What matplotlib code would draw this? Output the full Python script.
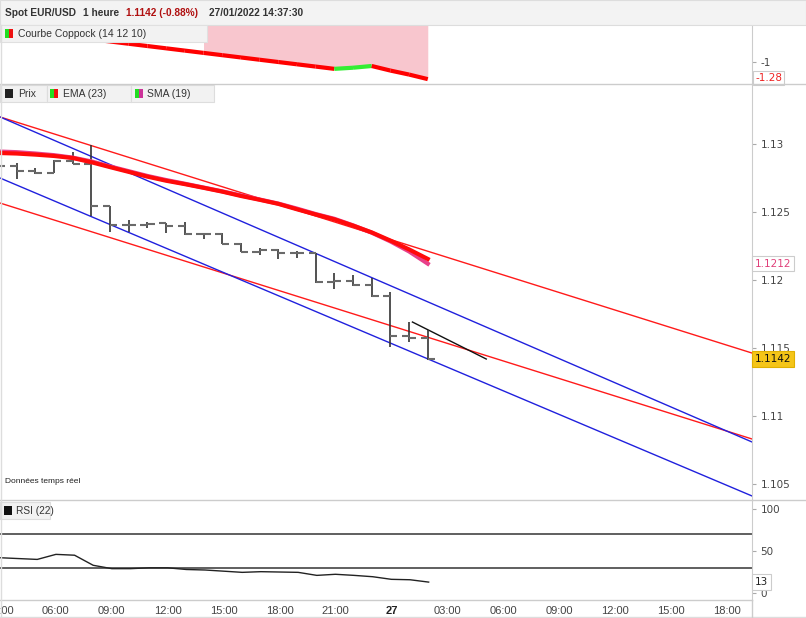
import matplotlib
matplotlib.use("Agg")
import matplotlib.pyplot as plt
from matplotlib.patches import Rectangle
import numpy as np

W, H = 806, 618

# hours counted from 26/01/2022 00:00
candle_hours = list(range(3, 27))
opens = [1.12850, 1.12838, 1.12801, 1.12787, 1.12875, 1.12853, 1.12544, 1.12404, 1.12404, 1.12419,
         1.12397, 1.12338, 1.12338, 1.12265, 1.12206, 1.12221, 1.12199, 1.12199, 1.11985, 1.11993,
         1.11963, 1.11882, 1.11588, 1.11574]
highs = [1.12870, 1.12860, 1.12824, 1.12882, 1.12941, 1.12993, 1.12544, 1.12441, 1.12426, 1.12419,
         1.12426, 1.12346, 1.12346, 1.12272, 1.12235, 1.12228, 1.12213, 1.12199, 1.12051, 1.12037,
         1.12015, 1.11912, 1.11691, 1.11632]
lows = [1.12810, 1.12743, 1.12779, 1.12787, 1.12853, 1.12471, 1.12353, 1.12353, 1.12382, 1.12346,
        1.12331, 1.12301, 1.12265, 1.12206, 1.12184, 1.12154, 1.12162, 1.11978, 1.11934, 1.11956,
        1.11875, 1.11507, 1.11544, 1.11412]
closes = [1.12838, 1.12801, 1.12787, 1.12875, 1.12853, 1.12544, 1.12404, 1.12404, 1.12412, 1.12397,
          1.12338, 1.12338, 1.12265, 1.12206, 1.12221, 1.12199, 1.12199, 1.11985, 1.11993, 1.11963,
          1.11882, 1.11588, 1.11574, 1.11419]

ma_hours = list(range(3, 27))
ema23 = [1.12934, 1.12930, 1.12922, 1.12912, 1.12897, 1.12866, 1.12830, 1.12795, 1.12760, 1.12730,
         1.12705, 1.12678, 1.12650, 1.12618, 1.12590, 1.12560, 1.12520, 1.12482, 1.12446, 1.12400,
         1.12350, 1.12290, 1.12225, 1.12155]
sma19 = [1.12945, 1.12940, 1.12930, 1.12918, 1.12900, 1.12872, 1.12835, 1.12800, 1.12765, 1.12735,
         1.12708, 1.12680, 1.12652, 1.12622, 1.12592, 1.12562, 1.12525, 1.12485, 1.12450, 1.12402,
         1.12348, 1.12284, 1.12210, 1.12120]

# trendlines (start hour, start price, end hour, end price)
red_channel = [(3.11, 1.13199, 43.35, 1.11463), (3.11, 1.12566, 43.35, 1.10831)]
blue_channel = [(3.11, 1.13199, 43.35, 1.10809), (3.11, 1.12750, 43.35, 1.10412)]
black_line = (25.18, 1.11691, 29.13, 1.11419)

coppock_hours = list(range(4, 27))
coppock = [-0.40, -0.45, -0.50, -0.55, -0.60, -0.64, -0.68, -0.72, -0.76, -0.80, -0.84, -0.88,
           -0.92, -0.96, -1.00, -1.04, -1.08, -1.12, -1.10, -1.07, -1.15, -1.22, -1.30]
coppock_shade_from = 14

rsi_hours = list(range(3, 27))
rsi = [42, 41, 40, 46, 45, 33, 29, 29, 30, 30, 28, 27.4, 26, 24.6, 25.4, 25, 24.6, 21, 22.3, 21,
       19.4, 16.3, 15.8, 13]

xticks = list(range(3, 43, 3))
xticklabels = ["27" if h == 24 else "%02d:00" % (h % 24) for h in xticks]

XMIN, XMAX = 3.11, 43.35
PLOT_R = 752


def fx(x):
    return x / W


def fy(y):
    return 1 - y / H


def axes_px(x0, y0, x1, y1):
    return [fx(x0), fy(y1), fx(x1) - fx(x0), fy(y0) - fy(y1)]


def box(x0, y0, x1, y1, fc, ec="none", lw=0.8):
    fig.add_artist(Rectangle((fx(x0), fy(y1)), fx(x1) - fx(x0), fy(y0) - fy(y1),
                             transform=fig.transFigure, facecolor=fc, edgecolor=ec, lw=lw))


def icon(x, y, colors):
    n = len(colors)
    for i, c in enumerate(colors):
        box(x + i * 8 / n, y, x + (i + 1) * 8 / n, y + 9, c)


fig = plt.figure(figsize=(W / 100, H / 100), dpi=100)
fig.patch.set_facecolor("white")
plt.rcParams["font.family"] = ["Liberation Sans", "DejaVu Sans"]

ax_c = fig.add_axes(axes_px(0, 25, PLOT_R, 83))
ax_p = fig.add_axes(axes_px(0, 84, PLOT_R, 500))
ax_r = fig.add_axes(axes_px(0, 500, PLOT_R, 600))

for a in (ax_c, ax_p, ax_r):
    a.set_xlim(XMIN, XMAX)
    for s in a.spines.values():
        s.set_visible(False)
    a.spines["right"].set_visible(True)
    a.spines["right"].set_color("#cccccc")
    a.yaxis.tick_right()
    a.tick_params(axis="y", length=3, color="#aaaaaa", labelsize=7.5, labelcolor="#444444", pad=3,
                  labelfontfamily="DejaVu Sans")
    a.tick_params(axis="x", length=0)
    a.set_xticks([])

# ---- Coppock panel
ax_c.set_ylim(-1.368, -0.351)
ch = np.array(coppock_hours)
cv = np.array(coppock)
m = ch >= coppock_shade_from
ax_c.fill_between(ch[m], cv[m], -0.351, color="#f8c6ce", lw=0)
for i in range(len(ch) - 1):
    col = "#33ee33" if cv[i + 1] > cv[i] else "#ff0000"
    ax_c.plot(ch[i:i + 2], cv[i:i + 2], color=col, lw=3, solid_capstyle="butt")
ax_c.set_yticks([-1])
ax_c.set_yticklabels(["-1"])
ax_c.text(1.004, -1.28, "-1.28", transform=ax_c.get_yaxis_transform(), color="#ee2222",
          fontsize=7.5, family="DejaVu Sans", va="center", ha="left",
          bbox=dict(boxstyle="square,pad=0.2", fc="white", ec="#cccccc", lw=0.8))

# ---- Price panel
ax_p.set_ylim(1.103824, 1.134412)
for x0, y0, x1, y1 in red_channel:
    ax_p.plot([x0, x1], [y0, y1], color="#ff1a1a", lw=1)
for x0, y0, x1, y1 in blue_channel:
    ax_p.plot([x0, x1], [y0, y1], color="#2020dd", lw=1)
ax_p.plot([black_line[0], black_line[2]], [black_line[1], black_line[3]], color="#111111", lw=1)

hrs = np.array(candle_hours)
ax_p.vlines(hrs, lows, highs, color="#333333", lw=1.2)
ax_p.hlines(opens, hrs - 0.38, hrs, color="#6a6a6a", lw=1.5)
ax_p.hlines(closes, hrs, hrs + 0.38, color="#6a6a6a", lw=1.5)

ax_p.plot(ma_hours, sma19, color="#e8408a", lw=3)
ax_p.plot(ma_hours, ema23, color="#ff0a0a", lw=3)

ax_p.set_yticks([1.105, 1.11, 1.115, 1.12, 1.125, 1.13])
ax_p.set_yticklabels(["1.105", "1.11", "1.115", "1.12", "1.125", "1.13"])
ax_p.text(1.004, 1.1212, "1.1212", transform=ax_p.get_yaxis_transform(), color="#e0407a",
          fontsize=7.5, family="DejaVu Sans", va="center", ha="left",
          bbox=dict(boxstyle="square,pad=0.25", fc="white", ec="#cccccc", lw=0.8))
ax_p.text(1.004, closes[-1], "1.1142", transform=ax_p.get_yaxis_transform(), color="#111111",
          fontsize=7.5, family="DejaVu Sans", va="center", ha="left",
          bbox=dict(boxstyle="square,pad=0.25", fc="#f5c518", ec="#e0b000", lw=0.8))
ax_p.text(0.006, 0.04, "Données temps réel", transform=ax_p.transAxes, fontsize=6,
          color="#222222", family=["Liberation Sans Narrow", "Liberation Sans"])

# ---- RSI panel
ax_r.set_ylim(-8.3, 110.7)
ax_r.axhline(70, color="#444444", lw=1.2)
ax_r.axhline(30, color="#444444", lw=1.2)
ax_r.plot(rsi_hours, rsi, color="#222222", lw=1)
ax_r.set_yticks([0, 50, 100])
ax_r.set_yticklabels(["0", "50", "100"])
ax_r.text(1.004, rsi[-1], "13", transform=ax_r.get_yaxis_transform(), color="#222222",
          fontsize=7.5, family="DejaVu Sans", va="center", ha="left",
          bbox=dict(boxstyle="square,pad=0.25", fc="white", ec="#cccccc", lw=0.8))
ax_r.set_xticks(xticks)
ax_r.set_xticklabels(xticklabels, fontsize=8, color="#444444")
ax_r.tick_params(axis="x", pad=4)
for lab in ax_r.get_xticklabels():
    if lab.get_text() == "27":
        lab.set_fontweight("bold")
        lab.set_color("#222222")

# ---- frame lines
fig.add_artist(plt.Line2D([0, 1], [fy(83.5), fy(83.5)], color="#cccccc", lw=1))
fig.add_artist(plt.Line2D([0, 1], [fy(500), fy(500)], color="#cccccc", lw=1))
fig.add_artist(plt.Line2D([0, fx(PLOT_R)], [fy(600), fy(600)], color="#cccccc", lw=1))
fig.add_artist(plt.Line2D([0, 1], [fy(617), fy(617)], color="#dddddd", lw=1))
fig.add_artist(plt.Line2D([fx(0.5), fx(0.5)], [fy(25), fy(617)], color="#dddddd", lw=1))
fig.add_artist(plt.Line2D([fx(PLOT_R), fx(PLOT_R)], [fy(600), fy(617)], color="#cccccc", lw=1))

# ---- header
box(0, 0, W, 25, "#f3f3f3", "#dddddd")
fig.text(fx(5), fy(13), "Spot EUR/USD", fontsize=7.3, fontweight="bold", color="#333333", va="center")
fig.text(fx(83), fy(13), "1 heure", fontsize=7.3, fontweight="bold", color="#333333", va="center")
fig.text(fx(126), fy(13), "1.1142 (-0.88%)", fontsize=7.3, fontweight="bold", color="#b01010", va="center")
fig.text(fx(209), fy(13), "27/01/2022 14:37:30", fontsize=7.3, fontweight="bold", color="#333333", va="center")

# ---- legend boxes
box(0, 25, 207, 42, "#f2f2f2", "#e0e0e0")
icon(5, 29, ["#22dd22", "#ee1111"])
fig.text(fx(18), fy(34), "Courbe Coppock (14 12 10)", fontsize=7.5, color="#333333", va="center")

box(0, 85, 47, 102, "#f2f2f2", "#dddddd")
icon(5, 89, ["#222222"])
fig.text(fx(18), fy(94), "Prix", fontsize=7.5, color="#333333", va="center")
box(47, 85, 131, 102, "#f2f2f2", "#dddddd")
icon(50, 89, ["#22dd22", "#ee1111"])
fig.text(fx(63), fy(94), "EMA (23)", fontsize=7.5, color="#333333", va="center")
box(131, 85, 214, 102, "#f2f2f2", "#dddddd")
icon(135, 89, ["#22dd22", "#cc3399"])
fig.text(fx(147), fy(94), "SMA (19)", fontsize=7.5, color="#333333", va="center")

box(0, 502, 50, 519, "#f2f2f2", "#dddddd")
icon(4, 506, ["#111111"])
fig.text(fx(16), fy(511), "RSI (22)", fontsize=7.3, color="#333333", va="center")

fig.savefig("out.png", dpi=100)
